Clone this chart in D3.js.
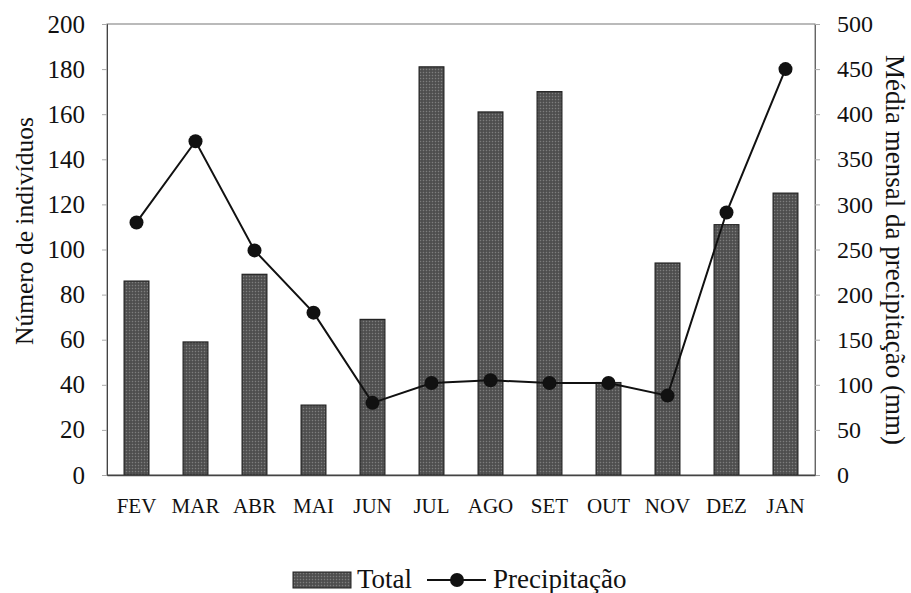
<!DOCTYPE html>
<html><head><meta charset="utf-8">
<script src="https://cdn.jsdelivr.net/npm/d3@7"></script>
<style>body{margin:0;background:#fff}svg{display:block}</style>
</head><body>
<svg id="c" width="911" height="593"></svg>
<script>
const months = ["FEV","MAR","ABR","MAI","JUN","JUL","AGO","SET","OUT","NOV","DEZ","JAN"];
const totals = [86,59,89,31,69,181,161,170,41,94,111,125];
const precip = [280,370,249,180,80,102,105,102,102,88,291,450];
const leftTicks = [0,20,40,60,80,100,120,140,160,180,200];
const rightTicks = [0,50,100,150,200,250,300,350,400,450,500];

const FONT = "Liberation Serif";
const svg = d3.select("#c");
const L=107,R=815,T=24,B=475;
const x = d3.scaleBand().domain(months).range([L,R]).paddingInner(0.58).paddingOuter(0.29);
const xc = d3.scaleBand().domain(months).range([L,R]);
const yL = d3.scaleLinear().domain([0,200]).range([B,T]);
const yR = d3.scaleLinear().domain([0,500]).range([B,T]);

const defs = svg.append("defs");
const p = defs.append("pattern").attr("id","dots").attr("width",3).attr("height",3).attr("patternUnits","userSpaceOnUse");
p.append("rect").attr("width",3).attr("height",3).attr("fill","#575757");
p.append("rect").attr("width",1).attr("height",1).attr("fill","#7d7d7d");
p.append("rect").attr("x",1.5).attr("y",1.5).attr("width",1).attr("height",1).attr("fill","#333");

svg.append("rect").attr("x",L).attr("y",T).attr("width",R-L).attr("height",B-T).attr("fill","none").attr("stroke","#777").attr("stroke-width",1);

svg.append("g").selectAll("rect").data(months).join("rect")
 .attr("x",d=>x(d)).attr("width",x.bandwidth())
 .attr("y",(d,i)=>yL(totals[i])).attr("height",(d,i)=>B-yL(totals[i]))
 .attr("fill","url(#dots)").attr("stroke","#222").attr("stroke-width",1.2);

function styleAxis(g,size){
  g.attr("font-family",FONT);
  g.selectAll("text").attr("font-family",FONT).attr("font-size",size).attr("fill","#111");
}
const gl = svg.append("g").attr("transform",`translate(${L},0)`)
 .call(d3.axisLeft(yL).tickValues(leftTicks).tickSize(5).tickPadding(17));
styleAxis(gl,25);
gl.select(".domain").attr("stroke","#444");
gl.selectAll(".tick line").attr("stroke","#aaa");
const gr = svg.append("g").attr("transform",`translate(${R},0)`)
 .call(d3.axisRight(yR).tickValues(rightTicks).tickSize(5).tickPadding(17));
styleAxis(gr,24);
gr.select(".domain").attr("stroke","#666");
gr.selectAll(".tick line").attr("stroke","#aaa");
const gb = svg.append("g").attr("transform",`translate(0,${B})`)
 .call(d3.axisBottom(xc).tickSize(0).tickPadding(23));
styleAxis(gb,21);
gb.select(".domain").attr("stroke","#444").attr("stroke-width",1.5);

const line = d3.line().x((d,i)=>xc(months[i])+xc.bandwidth()/2).y(d=>yR(d));
svg.append("path").datum(precip).attr("d",line).attr("fill","none").attr("stroke","#111").attr("stroke-width",2);
svg.append("g").selectAll("circle").data(precip).join("circle")
 .attr("cx",(d,i)=>xc(months[i])+xc.bandwidth()/2).attr("cy",d=>yR(d)).attr("r",7).attr("fill","#111");

svg.append("text").attr("font-family",FONT).attr("fill","#111").attr("font-size",25.5).attr("transform","translate(33,231) rotate(-90)").attr("text-anchor","middle").text("Número de indivíduos");
svg.append("text").attr("font-family",FONT).attr("fill","#111").attr("font-size",27).attr("transform","translate(886,250) rotate(90)").attr("text-anchor","middle").text("Média mensal da precipitação (mm)");

const lg = svg.append("g").attr("font-family",FONT);
lg.append("rect").attr("x",293).attr("y",572).attr("width",58).attr("height",16).attr("fill","url(#dots)").attr("stroke","#222");
lg.append("text").attr("x",357).attr("y",588).attr("fill","#111").attr("font-size",27).text("Total");
lg.append("line").attr("x1",427).attr("x2",486).attr("y1",580).attr("y2",580).attr("stroke","#111").attr("stroke-width",2);
lg.append("circle").attr("cx",457).attr("cy",580).attr("r",7).attr("fill","#111");
lg.append("text").attr("x",493).attr("y",588).attr("fill","#111").attr("font-size",27).text("Precipitação");
</script></body></html>
